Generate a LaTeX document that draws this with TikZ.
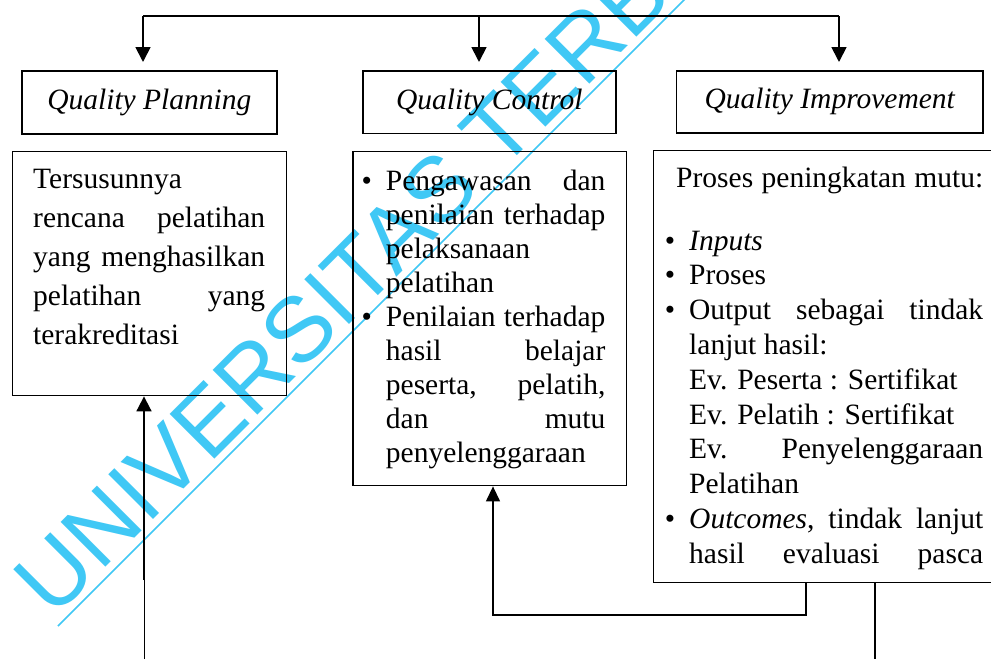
\documentclass[tikz,border=0pt]{standalone}
\usepackage{fontspec}
\setmainfont{Liberation Serif}
\newfontfamily\wmfont{Liberation Sans}
\usetikzlibrary{arrows.meta}
\definecolor{wmcyan}{RGB}{64,200,245}
\newcommand\Ln[1]{\hbox to \hsize{#1}}
\newcommand\Bul{\llap{\textbullet\hskip14pt}}
\begin{document}
\begin{tikzpicture}[x=1pt,y=-1pt,
  hdr/.style={draw, line width=1.7pt, inner sep=0pt, anchor=north west,
    font=\fontsize{29.5}{34}\selectfont\itshape},
  cbox/.style={draw, line width=1.4pt, inner sep=0pt, anchor=north west},
  body/.style={inner sep=0pt, anchor=base west, font=\fontsize{29.5}{34}\selectfont},
  arr/.style={-{Triangle[width=15pt,length=15pt]}, line width=1.8pt},
  conn/.style={line width=1.3pt},
  wm/.style={inner sep=0pt, anchor=base west, text=wmcyan,
    font=\wmfont\fontsize{92}{92}\selectfont}]
\clip (0,0) rectangle (991,659);
\fill[white] (0,0) rectangle (991,659);

% watermark (behind)
\node[wm, rotate=45] (wm) at (53.8,619.6) {UNIVERSITAS TERBUKA};
\coordinate (u1) at (58,626);
\coordinate (u2) at (700,-16);
\draw[wmcyan, line width=1.6pt] (u1) -- (u2);

% header boxes
\node[hdr, minimum width=255pt, minimum height=63pt] (qp) at (21,70) {Quality Planning};
\node[hdr, minimum width=253pt, minimum height=62.7pt] (qc) at (362,70) {Quality Control};
\node[hdr, minimum width=306.3pt, minimum height=62pt] (qi) at (675.7,70) {Quality Improvement};

% top distribution line
\coordinate (tl) at (143,16);
\coordinate (tm) at (479,16);
\coordinate (tr) at (839,16);
\draw[line width=1.5pt] (tl) -- (tr);
\draw[arr, shorten >=8pt] (tl) -- (tl |- qp.north);
\draw[arr, shorten >=8pt] (tm) -- (tm |- qc.north);
\draw[arr, shorten >=8pt] (tr) -- (tr |- qi.north);

% content boxes
\node[cbox, minimum width=273.7pt, minimum height=244pt] (lbox) at (12,151) {};
\node[cbox, minimum width=273.4pt, minimum height=334pt] (mbox) at (352.3,151) {};
\node[cbox, minimum width=360pt, minimum height=432pt] (rbox) at (653,149.5) {};

% left text
\node[body] (ltxt) at (33,188) {\vtop{\hsize=232pt \baselineskip=39pt \lineskiplimit=-\maxdimen
  \Ln{Tersusunnya\hfil}
  \Ln{rencana\hfill pelatihan}
  \Ln{yang\hfill menghasilkan}
  \Ln{pelatihan\hfill yang}
  \Ln{terakreditasi\hfil}}};

% middle text
\node[body] (mtxt) at (385.7,190) {\vtop{\hsize=219.5pt \baselineskip=34pt \lineskiplimit=-\maxdimen
  \Ln{\Bul Pengawasan\hfill dan}
  \Ln{penilaian\hfill terhadap}
  \Ln{pelaksanaan\hfil}
  \Ln{pelatihan\hfil}
  \Ln{\Bul Penilaian\hfill terhadap}
  \Ln{hasil\hfill belajar}
  \Ln{peserta,\hfill pelatih,}
  \Ln{dan\hfill mutu}
  \Ln{penyelenggaraan\hfil}}};

% right text
\node[body] (rtitle) at (676,187) {\hbox to 307pt{Proses\hfill peningkatan\hfill mutu:}};
\node[body] (rtxt) at (689,250) {\vtop{\hsize=294pt \baselineskip=34.8pt \lineskiplimit=-\maxdimen
  \Ln{\Bul\textit{Inputs}\hfil}
  \Ln{\Bul Proses\hfil}
  \Ln{\Bul Output\hfill sebagai\hfill tindak}
  \Ln{lanjut hasil:\hfil}
  \Ln{Ev. Peserta : Sertifikat\hfil}
  \Ln{Ev. Pelatih : Sertifikat\hfil}
  \Ln{Ev.\hfill Penyelenggaraan}
  \Ln{Pelatihan\hfil}
  \Ln{\Bul\textit{Outcomes},\hfill tindak\hfill lanjut}
  \Ln{hasil\hfill evaluasi\hfill pasca}}};

% bottom connectors
\coordinate (lb) at (144,659);
\coordinate (lm) at (144,580);
\draw[line width=1pt] (lb) -- (lm);
\draw[arr] (lm) -- (lm |- lbox.south);

\coordinate (turnR) at (806,615);
\coordinate (turnL) at (493,615);
\draw[conn, -{Triangle[width=14pt,length=15pt]}] (turnR |- rbox.south) -- (turnR) -- (turnL) -- (turnL |- mbox.south);

\coordinate (rb2) at (875,659);
\draw[conn] (rb2 |- rbox.south) -- (rb2);
\end{tikzpicture}
\end{document}
